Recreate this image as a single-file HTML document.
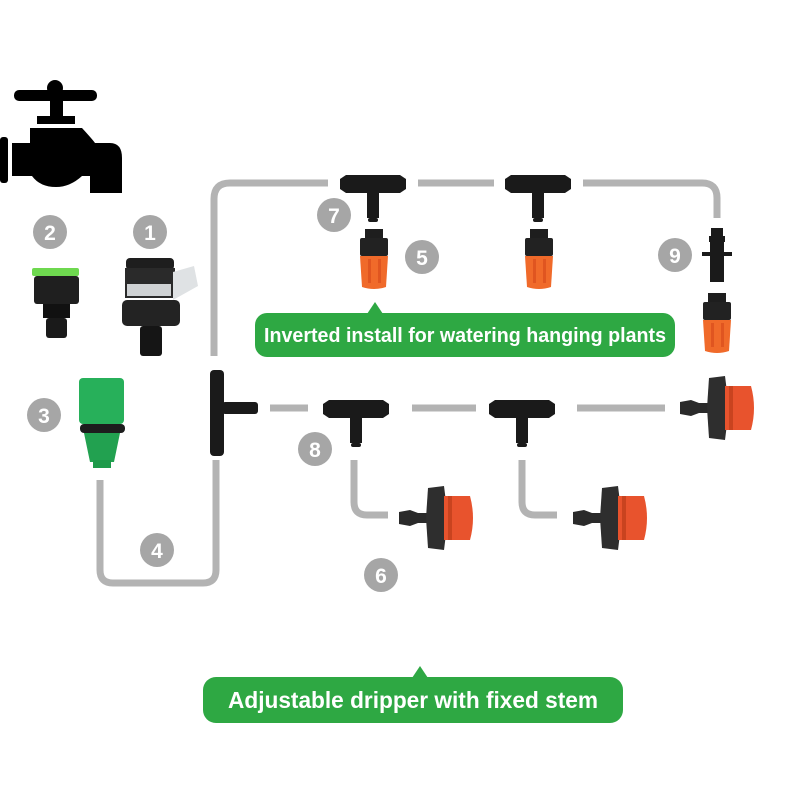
<!DOCTYPE html>
<html><head><meta charset="utf-8"><style>
html,body{margin:0;padding:0;background:#fff}
svg{display:block}
text{font-family:"Liberation Sans",sans-serif}
</style></head><body>
<svg width="800" height="800" viewBox="0 0 800 800" xmlns="http://www.w3.org/2000/svg">
<defs>
<g id="tee">
 <path d="M-33,-5 L-27,-9 L27,-9 L33,-5 L33,5 L27,9 L-27,9 L-33,5Z" fill="#1a1a1a"/>
 <rect x="-6" y="0" width="12" height="34" fill="#1a1a1a"/>
 <rect x="-5" y="34" width="10" height="4" rx="2" fill="#1a1a1a"/>
</g>
<g id="orange">
 <rect x="-9" y="0" width="18" height="10" fill="#1e1e1e"/>
 <rect x="-14" y="9" width="28" height="18" rx="2" fill="#222"/>
 <path d="M-14,27 L14,27 L12,58 Q0,62 -12,58Z" fill="#f06a2a"/>
 <rect x="-6" y="30" width="3" height="24" fill="#e05520"/>
 <rect x="4" y="30" width="3" height="24" fill="#e05520"/>
</g>
<g id="drip">
 <path d="M-35,-6 L-24,-8 L-16,-5 L-2,-5 L-2,5 L-16,5 L-24,8 L-35,6Z" fill="#2a2a2a"/>
 <path d="M-6,-30 L10,-32 L14,0 L10,32 L-6,30 L-8,0Z" fill="#2e2e2e"/>
 <path d="M10,-22 L36,-22 Q42,0 36,22 L10,22Z" fill="#e8532d"/>
 <rect x="14" y="-22" width="4" height="44" fill="#c9431f"/>
</g>
</defs>

<g fill="none" stroke="#b3b3b3" stroke-width="7">
 <path d="M214,356 L214,199 Q214,183 230,183 L328,183"/>
 <path d="M418,183 L494,183"/>
 <path d="M583,183 L702,183 Q717,183 717,198 L717,218"/>
 <path d="M100,480 L100,570 Q100,583 113,583 L203,583 Q216,583 216,570 L216,460"/>
 <path d="M270,408 L308,408"/>
 <path d="M412,408 L476,408"/>
 <path d="M577,408 L665,408"/>
 <path d="M354,460 L354,502 Q354,515 367,515 L388,515"/>
 <path d="M522,460 L522,502 Q522,515 535,515 L557,515"/>
</g>

<g fill="#000">
 <rect x="14" y="90" width="83" height="11" rx="5"/>
 <circle cx="55" cy="88" r="8"/>
 <rect x="50" y="95" width="13" height="24"/>
 <rect x="37" y="116" width="38" height="8"/>
 <path d="M30,128 L82,128 Q93,140 95,143 L110,143 Q122,143 122,158 L122,193 L90,193 L90,176 L82,176 Q70,187 56,187 Q40,187 32,176 L12,176 L12,143 L30,143 Z"/>
 <rect x="0" y="137" width="8" height="46" rx="3"/>
</g>

<rect x="32" y="268" width="47" height="8" rx="2" fill="#6ed84f"/>
<rect x="34" y="276" width="45" height="28" rx="3" fill="#1f1f1f"/>
<rect x="43" y="304" width="27" height="14" fill="#111"/>
<rect x="46" y="318" width="21" height="20" rx="3" fill="#1a1a1a"/>
<rect x="126" y="258" width="48" height="12" rx="4" fill="#1e1e1e"/>
<rect x="125" y="268" width="50" height="30" fill="#2a2a2a"/>
<rect x="127" y="284" width="44" height="12" fill="#cfd2d4"/>
<path d="M173,272 L194,266 L198,286 L173,300Z" fill="#dfe2e4"/>
<rect x="122" y="300" width="58" height="26" rx="5" fill="#232323"/>
<rect x="140" y="326" width="22" height="30" rx="3" fill="#151515"/>
<rect x="79" y="378" width="45" height="46" rx="4" fill="#27b05a"/>
<rect x="80" y="424" width="45" height="9" rx="4" fill="#1d1d1d"/>
<path d="M84,433 L120,433 L114,462 L90,462Z" fill="#22a150"/>
<rect x="93" y="460" width="18" height="8" fill="#1e9a4a"/>

<rect x="210" y="370" width="14" height="86" rx="4" fill="#1a1a1a"/>
<rect x="222" y="402" width="36" height="12" rx="3" fill="#1a1a1a"/>

<use href="#tee" x="373" y="184"/>
<use href="#tee" x="538" y="184"/>
<use href="#orange" x="374" y="229"/>
<use href="#orange" x="539" y="229"/>
<rect x="711" y="228" width="12" height="10" fill="#1a1a1a"/>
<rect x="709" y="236" width="16" height="6" fill="#1a1a1a"/>
<rect x="702" y="252" width="30" height="4" fill="#1a1a1a"/>
<rect x="710" y="238" width="14" height="44" fill="#1a1a1a"/>
<use href="#orange" x="717" y="293"/>

<use href="#tee" x="356" y="409"/>
<use href="#tee" x="522" y="409"/>

<use href="#drip" x="715" y="408"/>
<use href="#drip" x="434" y="518"/>
<use href="#drip" x="608" y="518"/>

<g fill="#a6a6a6">
 <circle cx="50" cy="232" r="17"/><circle cx="150" cy="232" r="17"/>
 <circle cx="44" cy="415" r="17"/><circle cx="157" cy="550" r="17"/>
 <circle cx="334" cy="215" r="17"/><circle cx="422" cy="257" r="17"/>
 <circle cx="675" cy="255" r="17"/><circle cx="315" cy="449" r="17"/>
 <circle cx="381" cy="575" r="17"/>
</g>
<g fill="#fff" font-size="21" font-weight="bold" text-anchor="middle">
 <text x="50" y="240">2</text><text x="150" y="240">1</text>
 <text x="44" y="423">3</text><text x="157" y="558">4</text>
 <text x="334" y="223">7</text><text x="422" y="265">5</text>
 <text x="675" y="263">9</text><text x="315" y="457">8</text>
 <text x="381" y="583">6</text>
</g>

<rect x="255" y="313" width="420" height="44" rx="12" fill="#2ea843"/>
<path d="M367,314 L375,302 L383,314Z" fill="#2ea843"/>
<text x="465" y="342" fill="#fff" font-size="20" font-weight="bold" text-anchor="middle" textLength="402" lengthAdjust="spacingAndGlyphs">Inverted install for watering hanging plants</text>
<rect x="203" y="677" width="420" height="46" rx="13" fill="#2ea843"/>
<path d="M412,678 L420,666 L428,678Z" fill="#2ea843"/>
<text x="413" y="708" fill="#fff" font-size="23" font-weight="bold" text-anchor="middle" textLength="370" lengthAdjust="spacingAndGlyphs">Adjustable dripper with fixed stem</text>
</svg>
</body></html>
